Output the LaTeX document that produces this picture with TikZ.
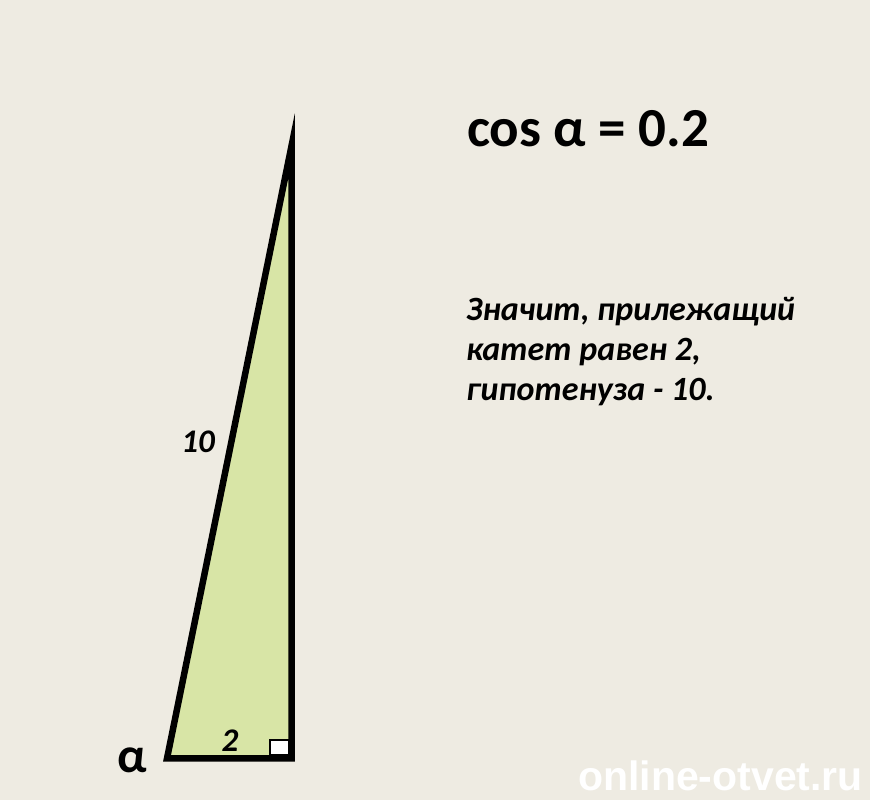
\documentclass[tikz,border=0pt]{standalone}
\usepackage{fontspec}
\setmainfont{Carlito}
\newfontfamily\wmfont{Liberation Sans}
\usepackage{xcolor}
\usetikzlibrary{positioning}

\definecolor{paper}{HTML}{EEEBE2}
\definecolor{leafgreen}{HTML}{D8E5A6}

\begin{document}
\begin{tikzpicture}[x=1pt, y=1pt,
		side/.style={line width=6.5pt, line join=miter, miter limit=12},
		lbl/.style={font=\bfseries\itshape\fontsize{33}{33}\selectfont, inner sep=0pt},
		txt/.style={font=\bfseries\itshape\fontsize{34}{40}\selectfont, inner sep=0pt, align=left}]
		\fill[paper] (0,0) rectangle (870,800);
		\useasboundingbox (0,0) rectangle (870,800);

		% triangle
		\coordinate (a) at (167,41.5);
		\coordinate (b) at (291.5,41.5);
		\coordinate (c) at (291.5,654);
		\draw[side, fill=leafgreen] (a) -- (b) -- (c) -- cycle;
		\draw[fill=white, line width=2pt] (270,44.5) rectangle (288.5,60);

		% labels
		\node[lbl, anchor=base] (hyp) at (198,347) {10};
		\node[lbl, anchor=base] (adj) at (230,48) {2};
		\node[font=\bfseries\fontsize{50}{50}\selectfont, inner sep=0pt, anchor=base] (alpha) at (132,27) {α};

		% text
		\node[font=\bfseries\fontsize{55}{55}\selectfont, inner sep=0pt, anchor=base west] (cos) at (467,653) {cos α = 0.2};
		\node[txt, anchor=north west] (expl) at (466,503) {Значит, прилежащий\\катет равен 2,\\гипотенуза - 10.};

		\node[font=\wmfont\bfseries\fontsize{41}{41}\selectfont, text=white, inner sep=0pt, anchor=base west] (wm) at (578,9) {online-otvet.ru};
	\end{tikzpicture}
\end{document}
